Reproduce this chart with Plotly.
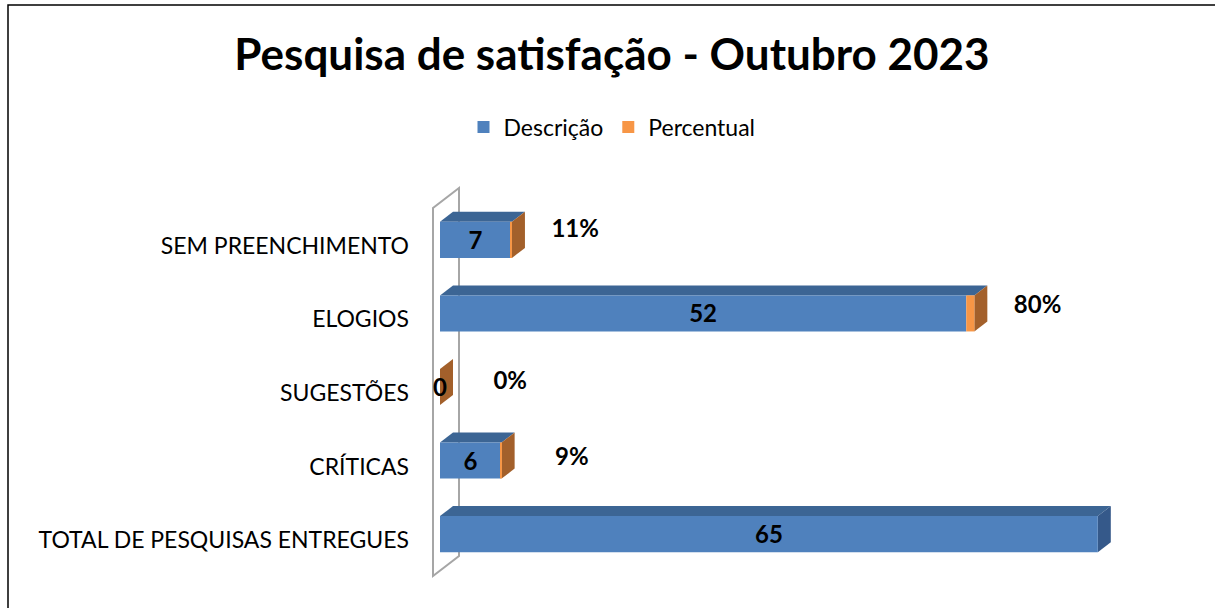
import plotly.graph_objects as go

categories = ["TOTAL DE PESQUISAS ENTREGUES", "CRÍTICAS", "SUGESTÕES", "ELOGIOS", "SEM PREENCHIMENTO"]
descricao = [65, 6, 0, 52, 7]
percentual = [None, 0.09, 0.0, 0.80, 0.11]

BLUE = "#4F81BD"
ORANGE = "#F79646"
BLUE_TOP = "#3C6594"
BLUE_SIDE = "#35598A"
ORANGE_SIDE = "#A3602B"
FONT = "Lato"

# pixel layout
W, H = 1215, 608
ML, MR, MT, MB = 420, 20, 181, 15
PX_PER_X = 10.12
X0_PX = 440
xr0 = -(X0_PX - ML) / PX_PER_X
xr1 = (W - MR - X0_PX) / PX_PER_X
yr = [-0.8, 4.8]
PX_PER_Y = (H - MT - MB) / (yr[1] - yr[0])

half = 0.245
dx = 13 / PX_PER_X
dy = 10 / PX_PER_Y

ypos = list(range(len(categories)))
pct_vals = [p if p is not None else 0 for p in percentual]

fig = go.Figure()
fig.add_trace(go.Bar(y=ypos, x=descricao, orientation="h", name="Descrição",
                     marker=dict(color=BLUE, line=dict(width=0)), width=2 * half))
fig.add_trace(go.Bar(y=ypos, x=pct_vals, base=descricao, orientation="h", name="Percentual",
                     marker=dict(color=ORANGE, line=dict(width=0)), width=2 * half))

# value labels
fig.add_trace(go.Scatter(x=[v / 2 for v in descricao], y=[i - 3 / PX_PER_Y for i in ypos],
                         mode="text", text=[str(v) for v in descricao], showlegend=False,
                         textfont=dict(family=FONT, size=24, color="black", weight="bold"),
                         hoverinfo="skip"))
px_, py_, pt_ = [], [], []
for i, (v, p) in enumerate(zip(descricao, percentual)):
    if p is None:
        continue
    px_.append(v + p + 87 / PX_PER_X)
    py_.append(i + (-0.8 + 2.33 * i) / PX_PER_Y)
    pt_.append(f"{round(p * 100)}%")
fig.add_trace(go.Scatter(x=px_, y=py_, mode="text", text=pt_, showlegend=False,
                         textposition="middle left",
                         textfont=dict(family=FONT, size=24, color="black", weight="bold"),
                         hoverinfo="skip"))

shapes = []
# back wall
wx0 = (433 - X0_PX) / PX_PER_X
wx1 = (459 - X0_PX) / PX_PER_X
def ydat(py):
    return yr[1] - (py - MT) / PX_PER_Y
wall = (f"M {wx0},{ydat(576)} L {wx0},{ydat(208)} L {wx1},{ydat(188)} "
        f"L {wx1},{ydat(556)} Z")
shapes.append(dict(type="path", path=wall, xref="x", yref="y", layer="below",
                   line=dict(color="#A6A6A6", width=2), fillcolor="rgba(0,0,0,0)"))

# 3D faces
for i, (v, p) in enumerate(zip(descricao, percentual)):
    end = v + (p if p is not None else 0)
    top = i + half
    bot = i - half
    if end > 0:
        shapes.append(dict(type="path", xref="x", yref="y", layer="below",
                           path=f"M 0,{top} L {dx},{top + dy} L {end + dx},{top + dy} L {end},{top} Z",
                           fillcolor=BLUE_TOP, line=dict(width=0)))
    side_col = ORANGE_SIDE if p is not None else BLUE_SIDE
    shapes.append(dict(type="path", xref="x", yref="y", layer="below",
                       path=f"M {end},{bot} L {end},{top} L {end + dx},{top + dy} L {end + dx},{bot + dy} Z",
                       fillcolor=side_col, line=dict(width=0)))

# outer frame
pw = W - ML - MR
ph = H - MT - MB
def xp(px):
    return (px - ML) / pw
def yp(py):
    return (H - MB - py) / ph
shapes.append(dict(type="rect", xref="paper", yref="paper", x0=xp(8), x1=xp(1225),
                   y0=yp(640), y1=yp(5), line=dict(color="black", width=1.5),
                   fillcolor="rgba(0,0,0,0)", layer="below"))

fig.update_layout(
    width=W, height=H,
    margin=dict(l=ML, r=MR, t=MT, b=MB, autoexpand=False),
    paper_bgcolor="white", plot_bgcolor="white",
    barmode="overlay",
    title=dict(text="<b>Pesquisa de satisfação - Outubro 2023</b>", x=612 / W, xref="container",
               xanchor="center", y=1 - 55 / H, yref="container", yanchor="middle",
               font=dict(family=FONT, size=44, color="black")),
    legend=dict(orientation="h", x=xp(612), xanchor="center", y=yp(127), yanchor="middle",
                font=dict(family=FONT, size=23, color="black"), traceorder="normal"),
    xaxis=dict(range=[xr0, xr1], visible=False, fixedrange=True),
    yaxis=dict(range=yr, tickvals=[i - 0.08 for i in ypos], ticktext=categories,
               showgrid=False, zeroline=False, showline=False, ticks="",
               ticklabelstandoff=10, automargin=False, fixedrange=True,
               tickfont=dict(family=FONT, size=23, color="black")),
    shapes=shapes,
    showlegend=True,
)

fig.write_html("out.html", config={"displayModeBar": False},
               post_script="document.body.style.margin='0';document.body.style.overflow='hidden';")
